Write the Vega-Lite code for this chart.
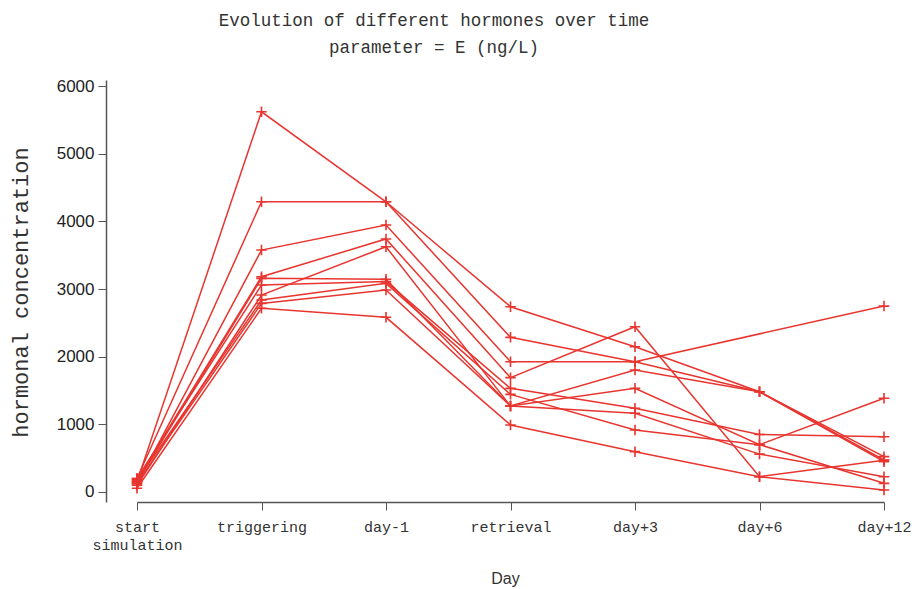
{
  "$schema": "https://vega.github.io/schema/vega-lite/v6.json",
  "width": 802,
  "height": 422,
  "autosize": "none",
  "padding": {"left": 106, "top": 80, "right": 9, "bottom": 87},
  "background": "white",
  "config": {"view": {"stroke": null}},
  "title": {
    "text": ["Evolution of different hormones over time", "parameter = E (ng/L)"],
    "font": "Liberation Mono",
    "fontSize": 17.5,
    "fontWeight": "normal",
    "color": "#333333",
    "lineHeight": 27,
    "anchor": "middle",
    "frame": "group",
    "dx": -73,
    "offset": 21
  },
  "data": {
    "values": [
      {"subject": "L1", "day": "start simulation", "value": 150},
      {"subject": "L1", "day": "triggering", "value": 5620},
      {"subject": "L1", "day": "day-1", "value": 4290},
      {"subject": "L1", "day": "retrieval", "value": 2738},
      {"subject": "L1", "day": "day+3", "value": 2148},
      {"subject": "L1", "day": "day+6", "value": 1482},
      {"subject": "L1", "day": "day+12", "value": 473},
      {"subject": "L2", "day": "start simulation", "value": 200},
      {"subject": "L2", "day": "triggering", "value": 4290},
      {"subject": "L2", "day": "day-1", "value": 4290},
      {"subject": "L2", "day": "retrieval", "value": 2286},
      {"subject": "L2", "day": "day+3", "value": 1926},
      {"subject": "L2", "day": "day+6", "value": 1482},
      {"subject": "L2", "day": "day+12", "value": 522},
      {"subject": "L3", "day": "start simulation", "value": 120},
      {"subject": "L3", "day": "triggering", "value": 3576},
      {"subject": "L3", "day": "day-1", "value": 3946},
      {"subject": "L3", "day": "retrieval", "value": 1926},
      {"subject": "L3", "day": "day+3", "value": 1926},
      {"subject": "L3", "day": "day+12", "value": 2748},
      {"subject": "L4", "day": "start simulation", "value": 180},
      {"subject": "L4", "day": "triggering", "value": 3182},
      {"subject": "L4", "day": "day-1", "value": 3740},
      {"subject": "L4", "day": "retrieval", "value": 1690},
      {"subject": "L4", "day": "day+3", "value": 2443},
      {"subject": "L4", "day": "day+6", "value": 226},
      {"subject": "L4", "day": "day+12", "value": 470},
      {"subject": "L5", "day": "start simulation", "value": 100},
      {"subject": "L5", "day": "triggering", "value": 2911},
      {"subject": "L5", "day": "day-1", "value": 3625},
      {"subject": "L5", "day": "retrieval", "value": 1271},
      {"subject": "L5", "day": "day+3", "value": 1803},
      {"subject": "L5", "day": "day+6", "value": 1482},
      {"subject": "L5", "day": "day+12", "value": 448},
      {"subject": "L6", "day": "start simulation", "value": 150},
      {"subject": "L6", "day": "triggering", "value": 3158},
      {"subject": "L6", "day": "day-1", "value": 3144},
      {"subject": "L6", "day": "retrieval", "value": 1271},
      {"subject": "L6", "day": "day+3", "value": 1532},
      {"subject": "L6", "day": "day+6", "value": 700},
      {"subject": "L6", "day": "day+12", "value": 1385},
      {"subject": "L7", "day": "start simulation", "value": 200},
      {"subject": "L7", "day": "triggering", "value": 3059},
      {"subject": "L7", "day": "day-1", "value": 3110},
      {"subject": "L7", "day": "retrieval", "value": 1532},
      {"subject": "L7", "day": "day+3", "value": 1237},
      {"subject": "L7", "day": "day+6", "value": 850},
      {"subject": "L7", "day": "day+12", "value": 817},
      {"subject": "L8", "day": "start simulation", "value": 130},
      {"subject": "L8", "day": "triggering", "value": 2788},
      {"subject": "L8", "day": "day-1", "value": 2985},
      {"subject": "L8", "day": "retrieval", "value": 1271},
      {"subject": "L8", "day": "day+3", "value": 1163},
      {"subject": "L8", "day": "day+6", "value": 560},
      {"subject": "L8", "day": "day+12", "value": 226},
      {"subject": "L9", "day": "start simulation", "value": 55},
      {"subject": "L9", "day": "triggering", "value": 2715},
      {"subject": "L9", "day": "day-1", "value": 2582},
      {"subject": "L9", "day": "retrieval", "value": 990},
      {"subject": "L9", "day": "day+3", "value": 596},
      {"subject": "L9", "day": "day+6", "value": 226},
      {"subject": "L9", "day": "day+12", "value": 30},
      {"subject": "L10", "day": "start simulation", "value": 170},
      {"subject": "L10", "day": "triggering", "value": 2837},
      {"subject": "L10", "day": "day-1", "value": 3084},
      {"subject": "L10", "day": "retrieval", "value": 1443},
      {"subject": "L10", "day": "day+3", "value": 916},
      {"subject": "L10", "day": "day+6", "value": 700},
      {"subject": "L10", "day": "day+12", "value": 128}
    ]
  },
  "encoding": {
    "x": {
      "field": "day",
      "type": "nominal",
      "sort": ["start simulation", "triggering", "day-1", "retrieval", "day+3", "day+6", "day+12"],
      "scale": {"type": "point", "padding": 0, "range": [31, 778]},
      "axis": {
        "title": "Day",
        "titleFont": "Liberation Sans",
        "titleFontSize": 16,
        "titleFontWeight": "normal",
        "titleColor": "#333333",
        "titleX": 399,
        "titleY": 76,
        "titleBaseline": "middle",
        "labelFont": "Liberation Mono",
        "labelFontSize": 15,
        "labelColor": "#333333",
        "labelAngle": 0,
        "labelPadding": 9,
        "labelLineHeight": 18,
        "labelExpr": "datum.label == 'start simulation' ? ['start', 'simulation'] : datum.label",
        "tickSize": 8,
        "tickColor": "#555555",
        "domainColor": "#555555",
        "domainWidth": 1.5,
        "grid": false
      }
    },
    "y": {
      "field": "value",
      "type": "quantitative",
      "scale": {"domain": [-148, 6090], "nice": false, "zero": false},
      "axis": {
        "title": "hormonal concentration",
        "titleFont": "Liberation Mono",
        "titleFontSize": 22,
        "titleFontWeight": "normal",
        "titleColor": "#333333",
        "titleX": -86,
        "titleY": 212,
        "titleAlign": "center",
        "titleBaseline": "middle",
        "values": [0, 1000, 2000, 3000, 4000, 5000, 6000],
        "format": "d",
        "labelFont": "Liberation Sans",
        "labelFontSize": 17,
        "labelColor": "#222222",
        "labelPadding": 4,
        "tickSize": 8,
        "tickColor": "#555555",
        "domainColor": "#555555",
        "domainWidth": 1.5,
        "grid": false
      }
    },
    "detail": {"field": "subject", "type": "nominal"}
  },
  "layer": [
    {"mark": {"type": "line", "color": "#e8352f", "strokeWidth": 1.5}},
    {"mark": {"type": "point", "shape": "M-1,0L1,0M0,-1L0,1", "filled": false, "color": "#e8352f", "strokeWidth": 1.6, "size": 110, "opacity": 1}}
  ]
}
